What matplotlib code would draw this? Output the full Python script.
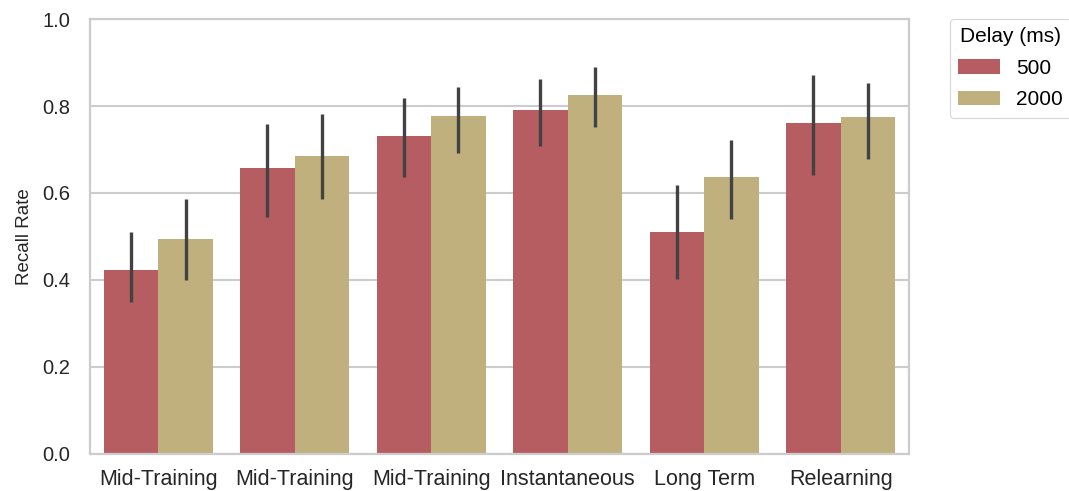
import numpy as np
import matplotlib
matplotlib.use("Agg")
import matplotlib.pyplot as plt

plt.rcParams['font.family'] = ['Liberation Sans', 'DejaVu Sans']

# ── Data ──────────────────────────────────────────────────────────────────────
categories = ["Mid-Training", "Mid-Training", "Mid-Training",
              "Instantaneous", "Long Term", "Relearning"]
delays = ["500", "2000"]

recall_500  = [0.423, 0.658, 0.732, 0.791, 0.511, 0.761]
low_500     = [0.349, 0.544, 0.637, 0.709, 0.401, 0.642]
high_500    = [0.511, 0.759, 0.818, 0.863, 0.619, 0.871]

recall_2000 = [0.494, 0.685, 0.778, 0.826, 0.637, 0.775]
low_2000    = [0.400, 0.586, 0.693, 0.752, 0.540, 0.679]
high_2000   = [0.586, 0.781, 0.844, 0.890, 0.722, 0.853]

colors = ["#b55d60", "#bfb07d"]
GRID = "#cccccc"


def main():
    fig = plt.figure(figsize=(10.69, 4.91), dpi=100)
    ax = fig.add_axes([0.0842, 0.076, 0.766, 0.885])

    x = np.arange(len(categories))
    width = 0.4
    series = [
        (recall_500, low_500, high_500),
        (recall_2000, low_2000, high_2000),
    ]
    for k, (vals, lo, hi) in enumerate(series):
        pos = x + (k - 0.5) * width
        vals = np.array(vals)
        ax.bar(pos, vals, width=width, color=colors[k], label=delays[k], zorder=2)
        yerr = [vals - np.array(lo), np.array(hi) - vals]
        ax.errorbar(pos, vals, yerr=yerr, fmt='none', ecolor='#424242',
                    elinewidth=2.4, capsize=0, zorder=3)

    ax.set_xlim(-0.5, len(categories) - 0.5)
    ax.set_ylim(0, 1.0)
    ax.set_yticks(np.arange(0, 1.01, 0.2))
    ax.set_yticklabels([f"{v:.1f}" for v in np.arange(0, 1.01, 0.2)])
    ax.set_xticks(x)
    ax.set_xticklabels(categories)
    ax.tick_params(axis='both', length=0, labelsize=14.5, colors='#262626')
    ax.tick_params(axis='x', labelsize=15.5, pad=11)
    ax.tick_params(axis='y', pad=14)
    ax.set_ylabel("Recall Rate", fontsize=13.5, color='#262626', labelpad=7)

    ax.set_axisbelow(True)
    ax.yaxis.grid(True, color=GRID, linewidth=1.5)
    for sp in ax.spines.values():
        sp.set_color(GRID)
        sp.set_linewidth(1.6)

    leg = ax.legend(title="Delay (ms)", loc='upper left', bbox_to_anchor=(1.05, 1.0),
                    fontsize=15, title_fontsize=15, frameon=True,
                    handlelength=2.0, handleheight=0.7, handletextpad=0.8,
                    labelspacing=0.6, borderaxespad=0.0)
    leg.get_frame().set_edgecolor(GRID)
    leg.get_frame().set_linewidth(0.8)

    fig.savefig("out.png", dpi=100)
    plt.close(fig)


if __name__ == "__main__":
    main()
